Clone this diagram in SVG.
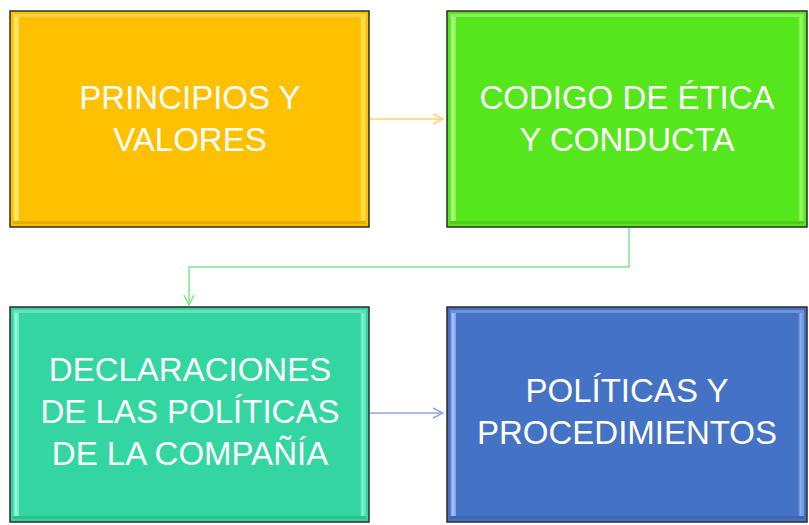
<svg xmlns="http://www.w3.org/2000/svg" width="809" height="525" viewBox="0 0 809 525">
<defs>
<style>
.frame{stroke:#2b2b2b;stroke-width:1.5}
.lbl{font-family:"Liberation Sans","Open Sans",sans-serif;font-size:33px;fill:#ffffff;text-anchor:middle}
.conn{fill:none;stroke-width:1.5}
</style>
<linearGradient id="gO" x1="0" y1="0" x2="1" y2="0"><stop offset="0" stop-color="#FFC000"/><stop offset="0.4" stop-color="#FFF27A"/><stop offset="1" stop-color="#FFD54A"/></linearGradient>
<linearGradient id="gG" x1="0" y1="0" x2="1" y2="0"><stop offset="0" stop-color="#55E61B"/><stop offset="0.4" stop-color="#B4FF8A"/><stop offset="1" stop-color="#82F050"/></linearGradient>
<linearGradient id="gT" x1="0" y1="0" x2="1" y2="0"><stop offset="0" stop-color="#33D6A0"/><stop offset="0.4" stop-color="#A8FFE6"/><stop offset="1" stop-color="#66E4BC"/></linearGradient>
<linearGradient id="gB" x1="0" y1="0" x2="1" y2="0"><stop offset="0" stop-color="#4472C4"/><stop offset="0.4" stop-color="#A9C6FF"/><stop offset="1" stop-color="#7BA0E6"/></linearGradient>
<marker id="ahO" viewBox="0 0 12 12" refX="11" refY="6" markerWidth="12" markerHeight="12" markerUnits="userSpaceOnUse" orient="auto"><path d="M1,1 L11,6 L1,11" fill="none" stroke="#FFD36B" stroke-width="1.5"/></marker>
<marker id="ahG" viewBox="0 0 12 12" refX="11" refY="6" markerWidth="12" markerHeight="12" markerUnits="userSpaceOnUse" orient="auto"><path d="M1,1 L11,6 L1,11" fill="none" stroke="#7EE88E" stroke-width="1.5"/></marker>
<marker id="ahB" viewBox="0 0 12 12" refX="11" refY="6" markerWidth="12" markerHeight="12" markerUnits="userSpaceOnUse" orient="auto"><path d="M1,1 L11,6 L1,11" fill="none" stroke="#8AA8E0" stroke-width="1.5"/></marker>
</defs>
<rect width="809" height="525" fill="#ffffff"/>
<g id="connectors">
<path class="conn" d="M370,119 H443" stroke="#FFD36B" marker-end="url(#ahO)"/>
<path class="conn" d="M629,228 V267 H189 V305" stroke="#7EE88E" marker-end="url(#ahG)"/>
<path class="conn" d="M370,413 H443" stroke="#8AA8E0" marker-end="url(#ahB)"/>
</g>
<g id="node1">
<rect x="10" y="11" width="359" height="216" fill="#FFC000" class="frame"/>
<rect x="13" y="14" width="6" height="210" fill="url(#gO)"/>
<rect x="360" y="14" width="6" height="210" fill="url(#gO)" opacity="0.7"/>
<rect x="13" y="14" width="353" height="3" fill="#FFD24D"/>
<rect x="13" y="221" width="353" height="3" fill="#E6AD00"/>
<text class="lbl" x="190" y="109">PRINCIPIOS Y</text>
<text class="lbl" x="190" y="151">VALORES</text>
</g>
<g id="node2">
<rect x="447" y="11" width="360" height="216" fill="#55E61B" class="frame"/>
<rect x="450" y="14" width="6" height="210" fill="url(#gG)"/>
<rect x="798" y="14" width="6" height="210" fill="url(#gG)" opacity="0.7"/>
<rect x="450" y="14" width="354" height="3" fill="#88F05A"/>
<rect x="450" y="221" width="354" height="3" fill="#4CCF18"/>
<text class="lbl" x="627" y="109">CODIGO DE ÉTICA</text>
<text class="lbl" x="627" y="151">Y CONDUCTA</text>
</g>
<g id="node3">
<rect x="10" y="307" width="359" height="215" fill="#33D6A0" class="frame"/>
<rect x="13" y="310" width="6" height="209" fill="url(#gT)"/>
<rect x="360" y="310" width="6" height="209" fill="url(#gT)" opacity="0.7"/>
<rect x="13" y="310" width="353" height="3" fill="#66E2BA"/>
<rect x="13" y="516" width="353" height="3" fill="#2EC090"/>
<text class="lbl" x="190" y="381">DECLARACIONES</text>
<text class="lbl" x="190" y="423">DE LAS POLÍTICAS</text>
<text class="lbl" x="190" y="465">DE LA COMPAÑÍA</text>
</g>
<g id="node4">
<rect x="447" y="307" width="360" height="215" fill="#4472C4" class="frame"/>
<rect x="450" y="310" width="6" height="209" fill="url(#gB)"/>
<rect x="798" y="310" width="6" height="209" fill="url(#gB)" opacity="0.7"/>
<rect x="450" y="310" width="354" height="3" fill="#6D92D6"/>
<rect x="450" y="516" width="354" height="3" fill="#3D66B0"/>
<text class="lbl" x="627" y="402">POLÍTICAS Y</text>
<text class="lbl" x="627" y="444">PROCEDIMIENTOS</text>
</g>
</svg>
